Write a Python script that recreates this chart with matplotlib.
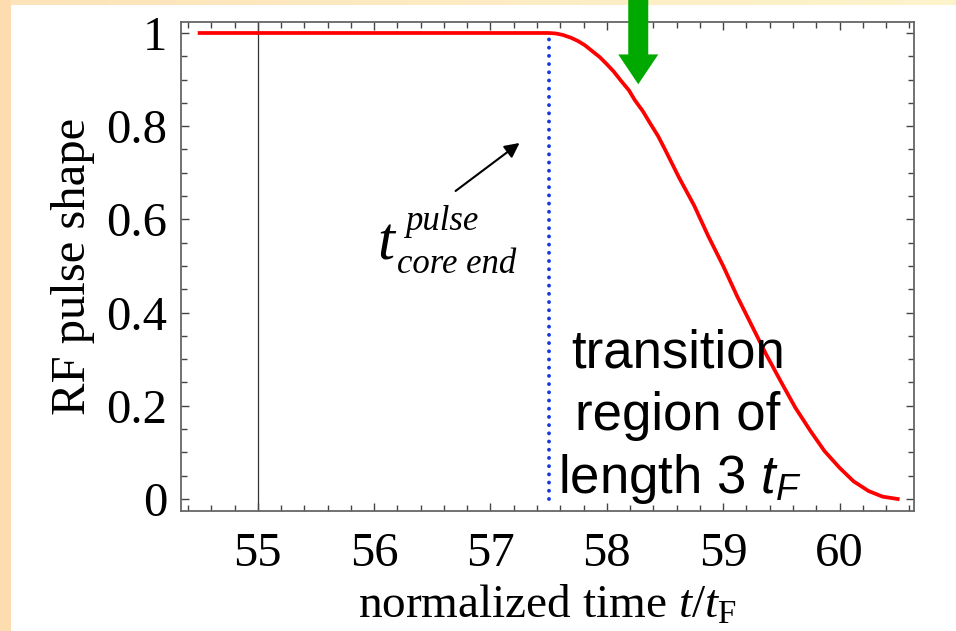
import numpy as np
import matplotlib
matplotlib.use('Agg')
import matplotlib.pyplot as plt
from matplotlib.ticker import MultipleLocator, FixedLocator, FixedFormatter
from matplotlib.patches import FancyArrow

plt.rcParams['font.family'] = ['Liberation Serif', 'DejaVu Serif']
plt.rcParams['mathtext.fontset'] = 'custom'
plt.rcParams['mathtext.rm'] = 'Liberation Serif'
plt.rcParams['mathtext.it'] = 'Liberation Serif:italic'
plt.rcParams['mathtext.sf'] = 'Liberation Sans:italic'

# 脉冲形状（从图上读取的点）
pulse_t = [54.5, 57.5, 57.56, 57.62, 57.69, 57.75, 57.81, 57.87, 57.94, 58.0,
           58.06, 58.12, 58.19, 58.24, 58.31, 58.37, 58.44, 58.5, 58.62, 58.75,
           58.87, 59.0, 59.12, 59.25, 59.37, 59.5, 59.62, 59.75, 59.87, 60.0,
           60.12, 60.25, 60.37, 60.5]
pulse_y = [1.0, 1.0, 0.999, 0.996, 0.99, 0.983, 0.974, 0.962, 0.948, 0.933,
           0.917, 0.898, 0.877, 0.856, 0.832, 0.807, 0.779, 0.75, 0.69, 0.63,
           0.565, 0.5, 0.435, 0.37, 0.31, 0.25, 0.196, 0.146, 0.103, 0.067,
           0.038, 0.017, 0.005, 0.0]

core_end = 57.5        # 脉冲核心结束时刻
ref_line = 55.0        # 黑色竖线
arrow_x = 58.27        # 绿色箭头位置

x_ticks = [55, 56, 57, 58, 59, 60]
x_labels = ['55', '56', '57', '58', '59', '60']
y_ticks = [0, 0.2, 0.4, 0.6, 0.8, 1.0]
y_labels = ['0', '0.2', '0.4', '0.6', '0.8', '1']

fig = plt.figure(figsize=(9.56, 6.31), dpi=100, facecolor='white')

# 背景边框（左侧和顶部的浅橙色条）
bg = fig.add_axes([0, 0, 1, 1], zorder=-10)
bg.set_xlim(0, 956)
bg.set_ylim(631, 0)
bg.axis('off')
grad = np.linspace(0, 1, 256)[None, :, None]
c0 = np.array([0.992, 0.890, 0.725])
c1 = np.array([0.992, 0.955, 0.800])
bg.imshow(c0 + (c1 - c0) * grad, extent=[0, 956, 5, 0], aspect='auto')
bg.add_patch(plt.Rectangle((0, 0), 11, 631, color='#fddcb0', lw=0))

ax = fig.add_axes([181 / 956, 120 / 631, 733 / 956, 489 / 631])
ax.set_xlim(54.34, 60.64)
ax.set_ylim(-0.0258, 1.0236)

ax.axvline(ref_line, color='#333333', lw=0.9, zorder=1)
ax.plot([core_end, core_end], [0, 1], color='#1438e6', lw=2.8,
        linestyle=(0, (0.01, 2.1)), dash_capstyle='round', zorder=2)
ax.plot(pulse_t, pulse_y, color='#ff0000', lw=2.7, zorder=3)

for s in ax.spines.values():
    s.set_color('#666666')
    s.set_linewidth(1.3)

ax.xaxis.set_major_locator(FixedLocator(x_ticks))
ax.xaxis.set_major_formatter(FixedFormatter(x_labels))
ax.yaxis.set_major_locator(FixedLocator(y_ticks))
ax.yaxis.set_major_formatter(FixedFormatter(y_labels))
ax.xaxis.set_minor_locator(MultipleLocator(0.2))
ax.yaxis.set_minor_locator(MultipleLocator(0.05))
ax.tick_params(which='both', direction='in', top=True, right=True,
               color='#444444', width=1.0)
ax.tick_params(which='major', length=6, labelsize=35, pad=10)
ax.tick_params(which='minor', length=4)
ax.tick_params(axis='x', which='major', pad=15)

ax.set_xlabel(r'normalized time $t/t_{\mathrm{F}}$', fontsize=34, labelpad=6)
ax.set_ylabel('RF pulse shape', fontsize=35, labelpad=8)

# t_core end^pulse 标注
ax.text(56.03, 0.513, 't', fontsize=44, style='italic', va='baseline', ha='left')
ax.text(56.263, 0.577, 'pulse', fontsize=25, style='italic', va='baseline', ha='left')
ax.text(56.194, 0.485, 'core end', fontsize=25, style='italic', va='baseline', ha='left')
ax.annotate('', xy=(57.25, 0.764), xytext=(56.70, 0.661),
            arrowprops=dict(arrowstyle='-|>', color='black', lw=1.5,
                            mutation_scale=22, shrinkA=0, shrinkB=0))

# 过渡区文字
sans = ['Liberation Sans', 'DejaVu Sans']
ax.text(58.61, 0.283, 'transition', fontsize=38, family=sans, ha='center', va='baseline', zorder=4)
ax.text(58.61, 0.148, 'region of', fontsize=38, family=sans, ha='center', va='baseline', zorder=4)
ax.text(58.63, 0.013, r'length 3 $\mathsf{t}_\mathsf{F}$', fontsize=38, family=sans,
        ha='center', va='baseline', zorder=4)

# 绿色箭头
top = 1.075
tip = 0.89
ax.add_patch(FancyArrow(arrow_x, top, 0, tip - top, width=0.172, head_width=0.344,
                        head_length=0.064, length_includes_head=True,
                        color='#00a800', lw=0, clip_on=False, zorder=5))

fig.savefig('out.png', dpi=100)
